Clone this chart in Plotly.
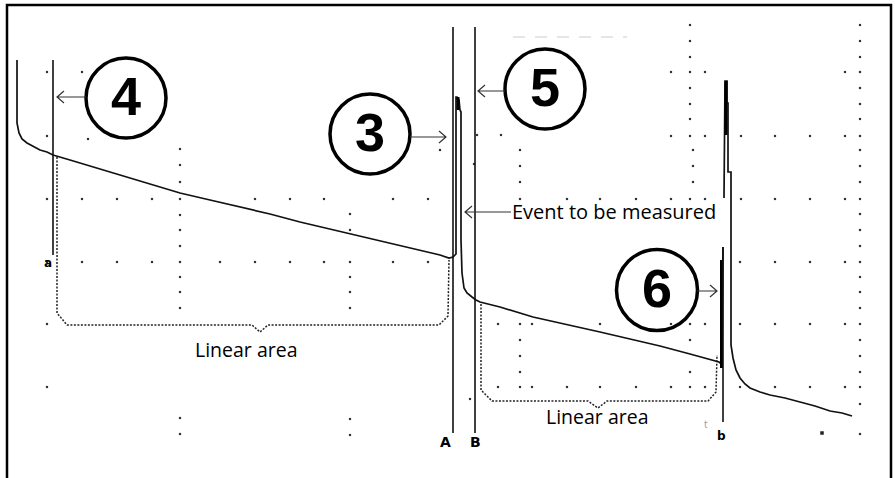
import plotly.graph_objects as go

W, H = 895, 478

# ---- OTDR trace (pixel-like units) ----
trace_x = [17, 17, 19, 22, 27, 33, 40, 47, 53, 70, 90, 110, 130, 150, 180, 210, 240, 270, 300, 330,
           360, 390, 420, 440, 449, 453, 456, 456, 457, 459, 460, 461, 461, 462, 464, 467, 472, 476,
           480, 500, 533, 567, 600, 630, 660, 690, 710, 719, 722, 723, None,
           724, 725, 727, 727, 728, 728, 731, 731, 733, 736, 740, 745, 750, 760, 770, 785, 800,
           815, 830, 842, 852]
trace_y = [60, 123, 133, 139, 143, 146, 150, 152, 155, 160, 166, 172, 178, 184, 193, 200, 207, 214, 222, 229,
           236, 243, 250, 255, 258, 257, 254, 97, 97, 100, 110, 112, 240, 273, 288, 293, 297, 300,
           302, 307, 317, 325, 332, 339, 346, 354, 359, 362, 365, 247, None,
           198, 81, 81, 103, 103, 172, 172, 345, 358, 370, 378, 384, 388, 392, 395, 398, 402,
           406, 411, 413, 416]

# thick parts of the reflective peaks
peak_x = [458, 726, 721.5]
peak_top = [97, 81, 260]
peak_bottom = [110, 135, 368]

# ---- cursors ----
cursor_names = ["a", "A", "B", "b"]
cursor_x = [53, 453, 475, 723]
cursor_top = [60, 27, 27, 247]
cursor_bottom = [255, 433, 433, 422]
cursor_label_x = [48, 445, 475, 721]
cursor_label_y = [263, 442, 442, 436]

# ---- linear-area brackets ----
bracket1_x = [57, 57, 67, 252, 260, 268, 439, 448, 449]
bracket1_y = [157, 313, 325, 325, 332, 325, 325, 316, 260]
bracket2_x = [481, 481, 492, 588, 598, 607, 708, 716, 717]
bracket2_y = [304, 390, 401, 401, 408, 401, 401, 392, 355]
bracket_labels = ["Linear area", "Linear area"]
bracket_label_x = [246, 597]
bracket_label_y = [349, 416]

# ---- circled callouts ----
callout_labels = ["4", "5", "3", "6"]
callout_cx = [126, 545, 370, 657]
callout_cy = [98, 89, 134, 290]
callout_r = [40, 40, 40, 40.5]
arrow_from_x = [86, 505, 410, 697]
arrow_to_x = [57, 478, 446, 717]
arrow_y = [97, 91, 137, 291]

event_text = "Event to be measured"
event_arrow = [511, 465, 212]

# ---- grid dots ----
grid_dots = [
    *[(180, y) for y in [149, 165, 182, 199, 215, 230, 246, 262, 277, 292, 308, 418, 434]],
    (47, 72), (82, 72), (47, 136), (88, 139),
    *[(x, 199) for x in [47, 82, 117, 152, 255, 290, 324, 393, 428, 520, 567, 600, 636, 671, 690, 705, 741, 775, 810, 845]],
    *[(x, 262) for x in [47, 82, 117, 152, 220, 255, 290, 324, 350, 393, 428, 740, 775, 810, 845]],
    (47, 324), (47, 387),
    *[(350, y) for y in [214, 230, 277, 292, 308, 419, 435]],
    (440, 150), (477, 135), (501, 135), (474, 164),
    *[(520, y) for y in [150, 166, 182, 340, 356, 372]],
    *[(690, y) for y in [25, 41, 57, 72, 88, 104, 119, 136, 340, 372]],
    *[(693, y) for y in [150, 166, 182]],
    (671, 72), (705, 72), (845, 72),
    *[(x, 136) for x in [671, 705, 741, 775, 810, 845]],
    *[(860, y) for y in [25, 41, 57, 72, 88, 104, 119, 136, 150, 166, 182, 199, 214, 230, 246, 262,
                         277, 292, 308, 324, 340, 356, 372, 387, 404, 434]],
    *[(x, 324) for x in [498, 520, 532, 600, 636, 671, 690, 705, 740, 775, 810, 845]],
    *[(x, 387) for x in [498, 520, 532, 567, 600, 636, 671, 690, 705, 740, 775, 810, 845]],
    (470, 399),
]
big_dot = (822, 433)

INK = "#111111"
TEXT_FONT = "Open Sans"

fig = go.Figure()

fig.add_trace(go.Scatter(
    x=[d[0] for d in grid_dots], y=[d[1] for d in grid_dots], mode="markers",
    marker=dict(symbol="square", size=2.2, color="#333333", line=dict(width=0)),
    hoverinfo="skip"))
fig.add_trace(go.Scatter(
    x=[big_dot[0]], y=[big_dot[1]], mode="markers",
    marker=dict(symbol="square", size=3.5, color="#222222", line=dict(width=0)),
    hoverinfo="skip"))

for bx, by in [(bracket1_x, bracket1_y), (bracket2_x, bracket2_y)]:
    fig.add_trace(go.Scatter(x=bx, y=by, mode="lines",
                             line=dict(color="#222222", width=1.5, dash="2px,1.5px"),
                             hoverinfo="skip"))

fig.add_trace(go.Scatter(x=trace_x, y=trace_y, mode="lines",
                         line=dict(color=INK, width=1.7), connectgaps=False, hoverinfo="skip"))

shapes = []
shapes.append(dict(type="path", path="M 7 478 L 7 5 L 891 5 L 891 478",
                   line=dict(color="black", width=2.5), xref="x", yref="y"))
shapes.append(dict(type="line", x0=513, x1=627, y0=37, y1=37,
                   line=dict(color="#cccccc", width=1, dash="12px,10px"), xref="x", yref="y"))

for px, pt, pb in zip(peak_x, peak_top, peak_bottom):
    shapes.append(dict(type="line", x0=px, x1=px, y0=pt, y1=pb,
                       line=dict(color="black", width=3), xref="x", yref="y"))

for cx, ct, cb in zip(cursor_x, cursor_top, cursor_bottom):
    shapes.append(dict(type="line", x0=cx, x1=cx, y0=ct, y1=cb,
                       line=dict(color=INK, width=1.6), xref="x", yref="y"))

for cx, cy, r in zip(callout_cx, callout_cy, callout_r):
    shapes.append(dict(type="circle", x0=cx - r, x1=cx + r, y0=cy - r, y1=cy + r,
                       line=dict(color="black", width=3.5), xref="x", yref="y"))


def arrow_path(x0, x1, y):
    d = 7 if x1 < x0 else -7
    return f"M {x0} {y} L {x1} {y} M {x1 + d} {y - 6} L {x1} {y} L {x1 + d} {y + 6}"


for x0, x1, y in zip(arrow_from_x, arrow_to_x, arrow_y):
    shapes.append(dict(type="path", path=arrow_path(x0, x1, y),
                       line=dict(color="#333333", width=1.2), xref="x", yref="y"))
shapes.append(dict(type="path", path=arrow_path(event_arrow[0], event_arrow[1], event_arrow[2]),
                   line=dict(color="#333333", width=1.2), xref="x", yref="y"))

annotations = []
for lab, cx, cy in zip(callout_labels, callout_cx, callout_cy):
    annotations.append(dict(x=cx, y=cy - 2, text=f"<b>{lab}</b>", showarrow=False,
                            xanchor="center", yanchor="middle",
                            font=dict(family="Liberation Sans", size=54, color="black")))
for lab, lx, ly in zip(cursor_names, cursor_label_x, cursor_label_y):
    size = 12 if lab.islower() else 14
    annotations.append(dict(x=lx, y=ly, text=f"<b>{lab}</b>", showarrow=False,
                            xanchor="center", yanchor="middle",
                            font=dict(family="DejaVu Sans", size=size, color="black")))
for lab, lx, ly in zip(bracket_labels, bracket_label_x, bracket_label_y):
    annotations.append(dict(x=lx, y=ly, text=lab, showarrow=False,
                            xanchor="center", yanchor="middle",
                            font=dict(family=TEXT_FONT, size=19.5, color="black")))
annotations.append(dict(x=event_arrow[0] - 1, y=event_arrow[2] - 1, text=event_text, showarrow=False,
                        xanchor="left", yanchor="middle",
                        font=dict(family=TEXT_FONT, size=20, color="black")))
annotations.append(dict(x=706, y=424, text="t", showarrow=False, xanchor="center", yanchor="middle",
                        font=dict(family=TEXT_FONT, size=10, color="#999999")))

fig.update_layout(
    width=W, height=H, margin=dict(l=0, r=0, t=0, b=0),
    paper_bgcolor="white", plot_bgcolor="white", showlegend=False,
    xaxis=dict(range=[0, W], visible=False, fixedrange=True),
    yaxis=dict(range=[H, 0], visible=False, fixedrange=True),
    shapes=shapes, annotations=annotations,
)

fig.write_html("out.html", config={"staticPlot": True},
               post_script="document.body.style.margin='0';document.body.style.overflow='hidden';")
